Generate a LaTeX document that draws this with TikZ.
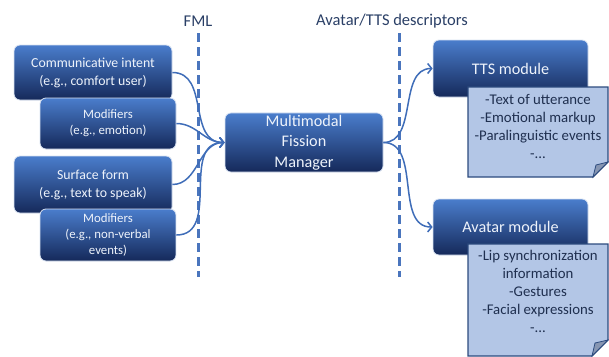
\documentclass[tikz,border=0pt]{standalone}
\usepackage{fontspec}
\setmainfont{Carlito}
\usetikzlibrary{arrows.meta}
\definecolor{boxtop}{HTML}{4A7DCC}
\definecolor{boxbot}{HTML}{15295A}
\definecolor{boxedge}{HTML}{D8E2F2}
\definecolor{boxtext}{HTML}{EEF3FB}
\definecolor{linec}{HTML}{3F6DB8}
\definecolor{dashc}{HTML}{4A75BD}
\definecolor{notefill}{HTML}{B3C6E6}
\definecolor{noteedge}{HTML}{2C4B7E}
\definecolor{notetext}{HTML}{1F2F4F}
\definecolor{foldc}{HTML}{8796B2}
\definecolor{labelc}{HTML}{2A3F66}
\begin{document}
\begin{tikzpicture}[x=1pt,y=-1pt,
  mbox/.style={draw=boxedge, line width=0.8pt, rounded corners=6pt,
    top color=boxtop, bottom color=boxbot, text=boxtext, align=center,
    inner sep=2pt},
  bigtxt/.style={font=\fontsize{13.8}{18}\selectfont},
  smalltxt/.style={font=\fontsize{12.8}{16}\selectfont},
  modtxt/.style={font=\fontsize{16.2}{20.5}\selectfont},
  arr/.style={draw=linec, line width=1.5pt, -{Straight Barb[length=4pt,width=10pt]}},
  fmlline/.style={draw=dashc, line width=3pt, dash pattern=on 9pt off 5pt},
  notetxt/.style={text=notetext, align=center, font=\fontsize{14.8}{18}\selectfont},
  lbl/.style={text=labelc, font=\fontsize{16.5}{18}\selectfont}
]
\useasboundingbox (0,0) rectangle (609,356);
\clip (0,0) rectangle (609,356);

% labels and dashed lines
\node[lbl] (fml) at (198,21) {FML};
\node[lbl] (desc) at (392,21) {Avatar/TTS descriptors};
\coordinate (f1) at (198,33);
\coordinate (f2) at (198,277);
\coordinate (d1) at (399,33);
\coordinate (d2) at (399,277);
\draw[fmlline] (f1) -- (f2);
\draw[fmlline] (d1) -- (d2);

% left boxes
\node[mbox, bigtxt, minimum width=158pt, minimum height=55pt] (ci) at (93,72.5)
  {Communicative intent\\(e.g., comfort user)};
\node[mbox, smalltxt, minimum width=136pt, minimum height=51pt] (m1) at (108,123.5)
  {Modifiers\\(e.g., emotion)};
\node[mbox, bigtxt, minimum width=158pt, minimum height=57pt] (sf) at (93,184.5)
  {Surface form\\(e.g., text to speak)};
\node[mbox, smalltxt, minimum width=136pt, minimum height=52pt] (m2) at (108,235)
  {Modifiers\\(e.g., non-verbal\\events)};

% manager
\node[mbox, modtxt, minimum width=158pt, minimum height=57pt] (mgr) at (304,142.5)
  {Multimodal\\Fission\\Manager};

% right modules
\node[mbox, modtxt, minimum width=155pt, minimum height=57pt] (tts) at (510.5,68.5) {TTS module};
\node[mbox, modtxt, minimum width=155pt, minimum height=56pt] (ava) at (510.5,227) {Avatar module};

% arrows
\draw[arr] (ci.east) to[out=0,in=180,looseness=1.1] (mgr.west);
\draw[arr] (m1.east) to[out=0,in=180] (mgr.west);
\draw[arr] (sf.east) to[out=0,in=180] (mgr.west);
\draw[arr] (m2.east) to[out=0,in=180,looseness=1.1] (mgr.west);
\draw[arr] (mgr.east) to[out=0,in=180] (tts.west);
\draw[arr] (mgr.east) to[out=0,in=180] (ava.west);

% notes
\coordinate (n1a) at (468,87);
\coordinate (n1b) at (608,87);
\coordinate (n1c) at (608,162);
\coordinate (n1d) at (593,177);
\coordinate (n1e) at (468,177);
\filldraw[fill=notefill, draw=noteedge, line width=1.1pt]
  (n1a) -- (n1b) -- (n1c) -- (n1d) -- (n1e) -- cycle;
\filldraw[fill=foldc, draw=noteedge, line width=0.8pt]
  (n1c) -- (n1d) -- (596,165) -- cycle;
\node[notetxt] (n1) at (538,126) {-Text of utterance\\-Emotional markup\\-Paralinguistic events\\-...};

\coordinate (n2a) at (468,244);
\coordinate (n2b) at (608,244);
\coordinate (n2c) at (608,340);
\coordinate (n2d) at (592,356);
\coordinate (n2e) at (468,356);
\filldraw[fill=notefill, draw=noteedge, line width=1.1pt]
  (n2a) -- (n2b) -- (n2c) -- (n2d) -- (n2e) -- cycle;
\filldraw[fill=foldc, draw=noteedge, line width=0.8pt]
  (n2c) -- (n2d) -- (595,343) -- cycle;
\node[notetxt] (n2) at (538,291) {-Lip synchronization\\information\\-Gestures\\-Facial expressions\\-...};
\end{tikzpicture}
\end{document}
